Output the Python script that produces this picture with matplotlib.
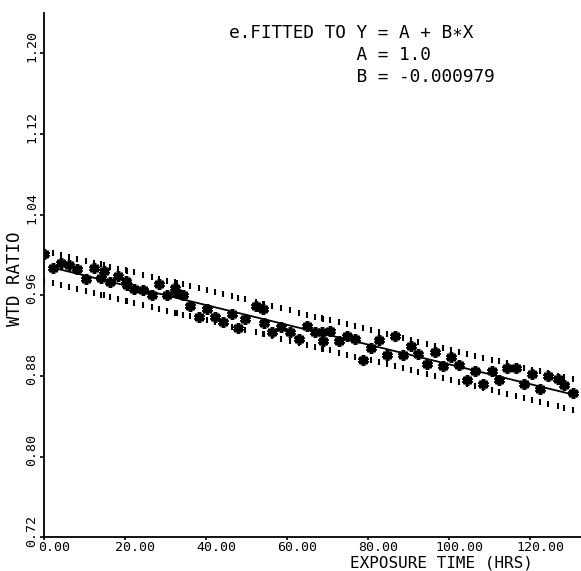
import numpy as np
import matplotlib
matplotlib.use("Agg")
import matplotlib.pyplot as plt
import matplotlib.transforms as mtransforms

# exposure time (hrs) and weighted ratio
exposure_hrs = [0.0, 2.2, 4.2, 6.2, 8.1, 10.4, 12.3, 14.1, 14.8, 16.3,
                18.3, 20.2, 20.5, 22.2, 24.4, 26.7, 28.4, 30.4, 32.3, 32.8,
                34.3, 36.0, 38.3, 40.2, 42.2, 44.0, 46.4, 47.9, 49.6, 52.3,
                54.1, 54.3, 56.3, 58.5, 60.7, 63.0, 64.9, 66.9, 68.6, 68.9,
                70.6, 72.8, 74.8, 76.8, 78.8, 80.7, 82.7, 84.7, 86.7, 88.6,
                90.6, 92.3, 94.6, 96.5, 98.5, 100.5, 102.5, 104.4, 106.4, 108.4,
                110.6, 112.3, 114.3, 116.5, 118.5, 120.5, 122.5, 124.4, 126.7, 128.4,
                130.6]
wtd_ratio = [1.001, 0.987, 0.992, 0.990, 0.986, 0.976, 0.987, 0.977, 0.984, 0.973,
             0.979, 0.974, 0.970, 0.966, 0.965, 0.960, 0.971, 0.960, 0.967, 0.962,
             0.960, 0.949, 0.939, 0.947, 0.939, 0.934, 0.942, 0.928, 0.937, 0.949,
             0.947, 0.933, 0.924, 0.929, 0.924, 0.917, 0.930, 0.924, 0.924, 0.915,
             0.925, 0.915, 0.920, 0.917, 0.896, 0.908, 0.916, 0.901, 0.920, 0.901,
             0.910, 0.902, 0.892, 0.904, 0.890, 0.899, 0.891, 0.876, 0.885, 0.872,
             0.885, 0.876, 0.888, 0.888, 0.872, 0.882, 0.867, 0.880, 0.877, 0.871,
             0.863]

# fitted line Y = A + B*X (A as drawn, printed rounded to 1.0)
A_LINE = 0.9895
B_LINE = -0.000979
fit_range = [1.5, 130.6]
band_half = 0.015

x_ticks = [0, 20, 40, 60, 80, 100, 120]
y_ticks = [0.72, 0.80, 0.88, 0.96, 1.04, 1.12, 1.20]

MONO = ["DejaVu Sans Mono", "DejaVu Sans"]

fig = plt.figure(figsize=(5.81, 5.71), dpi=100)
ax = fig.add_axes([0.0762, 0.0587, 0.9238, 0.9186])

x = np.array(exposure_hrs)
y = np.array(wtd_ratio)

# fitted line
xf = np.array(fit_range)
ax.plot(xf, A_LINE + B_LINE * xf, color="black", linewidth=1.3, zorder=3)

# dashed confidence band, drawn as short vertical ticks
band_fit = A_LINE + B_LINE * x
ax.plot(x, band_fit + band_half, linestyle="none", marker="|", markersize=4.5,
        markeredgewidth=1.5, color="black", zorder=2)
ax.plot(x, band_fit - band_half, linestyle="none", marker="|", markersize=4.5,
        markeredgewidth=1.5, color="black", zorder=2)

# data points
ax.plot(x, y, linestyle="none", marker=(6, 2, 0), markersize=7.5,
        markeredgewidth=2.6, color="black", zorder=4)

ax.set_xlim(0, 132.5)
ax.set_ylim(0.72, 1.24)
ax.set_xticks(x_ticks)
ax.set_xticklabels([f"{v:.2f}" for v in x_ticks], family=MONO, fontsize=9.5)
ax.set_yticks(y_ticks)
ax.set_yticklabels([f"{v:.2f}" for v in y_ticks], family=MONO, fontsize=9.5,
                   rotation=90, va="center")

for s in ["top", "right"]:
    ax.spines[s].set_visible(False)
for s in ["left", "bottom"]:
    ax.spines[s].set_linewidth(1.3)
ax.tick_params(axis="x", direction="out", length=2.5, width=1.2, pad=0)
ax.tick_params(axis="y", direction="out", length=3, width=1.2, pad=1.5)

# plotter labels sit a bit off their ticks
dx = mtransforms.ScaledTranslation(7 / 72, 0, fig.dpi_scale_trans)
for lab in ax.get_xticklabels():
    lab.set_transform(lab.get_transform() + dx)
dy = mtransforms.ScaledTranslation(0, 5 / 72, fig.dpi_scale_trans)
for lab in ax.get_yticklabels():
    lab.set_transform(lab.get_transform() + dy)

fig.text(441 / 581, 0, "EXPOSURE TIME (HRS)", ha="center", va="bottom",
         family=MONO, fontsize=11.5)
fig.text(15 / 581, 1 - 279 / 571, "WTD RATIO", rotation=90,
         ha="center", va="center", family=MONO, fontsize=12.5)

note = ("e.FITTED TO Y = A + B\u2217X\n"
        "            A = 1.0\n"
        "            B = -0.000979")
fig.text(229 / 581, 1 - 24 / 571, note, ha="left", va="top", family=MONO,
         fontsize=12.8, linespacing=1.3)

fig.savefig("out.png", dpi=100)
